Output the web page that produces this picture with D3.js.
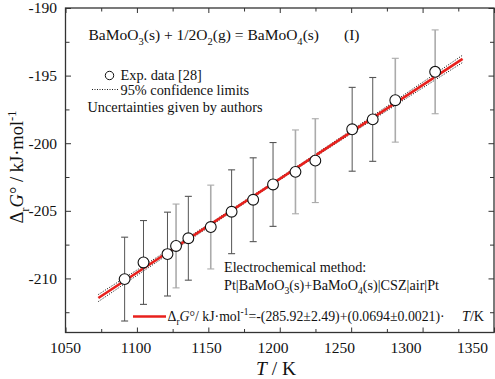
<!DOCTYPE html>
<html><head><meta charset="utf-8">
<script src="https://cdn.jsdelivr.net/npm/d3@7"></script>
<style>
html,body{margin:0;padding:0;background:#fff;}
svg{display:block;font-family:'Liberation Serif','Times New Roman',serif;}
</style></head>
<body><svg id="c" width="495" height="379"></svg>
<script>
// ---- data ----
const temperatureK = [1091.4, 1104.6, 1121.4, 1127.4, 1136.0, 1151.7, 1166.3, 1181.4, 1195.3, 1211.0, 1224.9, 1250.7, 1265.1, 1280.9, 1308.8];
const deltaG = [-210.05, -208.82, -208.20, -207.60, -207.03, -206.20, -205.07, -204.18, -203.05, -202.12, -201.29, -198.97, -198.24, -196.82, -194.72];
const uncertainty = [3.1, 3.1, 3.1, 3.1, 3.1, 3.1, 3.1, 3.1, 3.1, 3.1, 3.1, 3.1, 3.1, 3.1, 3.1];
const run = ["A","A","A","B","A","B","A","A","A","B","B","A","A","B","B"];
const fitT = [1073, 1328];
const fitG = [-211.45, -193.76];
const clT = [1073, 1100, 1130, 1160, 1190, 1220, 1250, 1280, 1310, 1328];
const clUpper = [-211.19, -209.38, -207.36, -205.32, -203.25, -201.16, -199.05, -196.92, -194.78, -193.49];
const clLower = [-211.71, -209.78, -207.64, -205.52, -203.41, -201.34, -199.29, -197.26, -195.24, -194.03];
const xTicks = [1050, 1100, 1150, 1200, 1250, 1300, 1350];
const xMinor = [1075, 1125, 1175, 1225, 1275, 1325];
const yTicks = [-210, -205, -200, -195, -190];
const yMinor = [-212.5, -207.5, -202.5, -197.5, -192.5];

// ---- layout ----
const svg = d3.select("#c");
const L = 65.5, R = 494, T = 8, B = 332.5;
const x = d3.scaleLinear().domain([1050, 1350]).range([L, R]);
const y = d3.scaleLinear().domain([-214, -190]).range([B, T]);
const xLab = d3.scaleLinear().domain([1050, 1150, 1350]).range([65, 206, 472]);
const barColor = d3.scaleOrdinal().domain(["A","B"]).range(["#555555","#ababab"]);
const barWidth = d3.scaleOrdinal().domain(["A","B"]).range([1, 1.6]);
const frameColor = "#333";

function axisStyle(g){
  g.select(".domain").remove();
  g.selectAll(".tick line").attr("stroke", frameColor).attr("stroke-width", 1);
  g.selectAll("text").attr("font-family","'Liberation Serif','Times New Roman',serif").attr("font-size", 15.5).attr("fill","#111");
}
// bottom
svg.append("g").attr("transform",`translate(0,${B})`)
  .call(d3.axisBottom(x).tickValues(xTicks).tickSize(-5).tickPadding(9).tickFormat(d3.format("d")))
  .call(axisStyle)
  .call(g => g.selectAll(".tick text").attr("x", d => xLab(d) - x(d)).attr("dy","0.72em"));
svg.append("g").attr("transform",`translate(0,${B})`)
  .call(d3.axisBottom(x).tickValues(xMinor).tickSize(-3.5).tickFormat(""))
  .call(axisStyle);
// top
svg.append("g").attr("transform",`translate(0,${T})`)
  .call(d3.axisTop(x).tickValues(xTicks).tickSize(-5).tickFormat(""))
  .call(axisStyle);
svg.append("g").attr("transform",`translate(0,${T})`)
  .call(d3.axisTop(x).tickValues(xMinor).tickSize(-3.5).tickFormat(""))
  .call(axisStyle);
// left
svg.append("g").attr("transform",`translate(${L},0)`)
  .call(d3.axisLeft(y).tickValues(yTicks).tickSize(-5.5).tickPadding(8.5).tickFormat(d => d3.format("d")(d).replace("−","-")))
  .call(axisStyle);
svg.append("g").attr("transform",`translate(${L},0)`)
  .call(d3.axisLeft(y).tickValues(yMinor).tickSize(-4).tickFormat(""))
  .call(axisStyle);
// right
svg.append("g").attr("transform",`translate(${R},0)`)
  .call(d3.axisRight(y).tickValues(yTicks).tickSize(-5.5).tickFormat(""))
  .call(axisStyle);
svg.append("g").attr("transform",`translate(${R},0)`)
  .call(d3.axisRight(y).tickValues(yMinor).tickSize(-4).tickFormat(""))
  .call(axisStyle);

// frame
svg.append("rect").attr("x", L).attr("y", T).attr("width", R - L).attr("height", B - T)
  .attr("fill","none").attr("stroke", frameColor).attr("stroke-width", 1.3);

// confidence limits
const clLine = d3.line().x(d => x(d[0])).y(d => y(d[1]));
[clUpper, clLower].forEach(arr => {
  svg.append("path").datum(clT.map((t,i) => [t, arr[i]]))
    .attr("d", clLine).attr("fill","none").attr("stroke","#000").attr("stroke-width",1).attr("stroke-dasharray","1,1.6");
});
// fit line
svg.append("path").datum(fitT.map((t,i) => [t, fitG[i]]))
  .attr("d", clLine).attr("fill","none").attr("stroke","#e8201c").attr("stroke-width",2.6);

// error bars
const pts = temperatureK.map((t,i) => ({t, g: deltaG[i], e: uncertainty[i], r: run[i]}));
const eb = svg.append("g");
pts.forEach(p => {
  const c = barColor(p.r), w = barWidth(p.r);
  const cx = x(p.t);
  eb.append("line").attr("x1",cx).attr("x2",cx).attr("y1",y(p.g + p.e)).attr("y2",y(p.g - p.e)).attr("stroke",c).attr("stroke-width",w);
  [p.g + p.e, p.g - p.e].forEach(v => {
    eb.append("line").attr("x1",cx - 3.5).attr("x2",cx + 3.5).attr("y1",y(v)).attr("y2",y(v)).attr("stroke",c).attr("stroke-width",1.1);
  });
});
// points
svg.append("g").selectAll("circle").data(pts).join("circle")
  .attr("cx", d => x(d.t)).attr("cy", d => y(d.g)).attr("r", 5.4)
  .attr("fill","#fff").attr("stroke","#111").attr("stroke-width",1.1);

// rich text helper
function richText(xp, yp, parts, size, anchor){
  const t = svg.append("text").attr("x", xp).attr("y", yp).attr("font-size", size).attr("fill","#111")
    .attr("text-anchor", anchor || "start");
  let shift = 0;
  parts.forEach(p => {
    const s = t.append("tspan").text(p.t);
    if (p.i) s.attr("font-style","italic");
    let want = 0;
    if (p.sub){ s.attr("font-size", size*0.68); want = size*0.3; }
    if (p.sup){ s.attr("font-size", size*0.68); want = -size*0.38; }
    s.attr("dy", want - shift);
    shift = want;
  });
  return t;
}

// title equation
richText(88.5, 40, [{t:"BaMoO"},{t:"3",sub:1},{t:"(s) + 1/2O"},{t:"2",sub:1},{t:"(g) = BaMoO"},{t:"4",sub:1},{t:"(s)"}], 15.5);
richText(344, 40, [{t:"(I)"}], 15.5);

// legend
svg.append("circle").attr("cx",109.5).attr("cy",75.5).attr("r",4.2).attr("fill","#fff").attr("stroke","#111").attr("stroke-width",1);
richText(120.5, 80, [{t:"Exp. data [28]"}], 14.3);
svg.append("line").attr("x1",92).attr("x2",118).attr("y1",89.5).attr("y2",89.5).attr("stroke","#000").attr("stroke-width",0.9).attr("stroke-dasharray","1,1.5");
richText(120.5, 94.5, [{t:"95% confidence limits"}], 14.3);
richText(87.5, 111.5, [{t:"Uncertainties given by authors"}], 14.3);

// method text
richText(224, 272, [{t:"Electrochemical method:"}], 14.2);
richText(224, 289.5, [{t:"Pt|BaMoO"},{t:"3",sub:1},{t:"(s)+BaMoO"},{t:"4",sub:1},{t:"(s)|CSZ|air|Pt"}], 14.2);

// fit legend
svg.append("line").attr("x1",133).attr("x2",166).attr("y1",316.5).attr("y2",316.5).attr("stroke","#e8201c").attr("stroke-width",2.6);
richText(167.5, 320.5, [{t:"Δ"},{t:"r",sub:1},{t:"G",i:1},{t:"°/ kJ·mol"},{t:"-1",sup:1},{t:"=-(285.92±2.49)+(0.0694±0.0021)·"}], 13.8);
richText(462, 320.5, [{t:"T",i:1},{t:"/K"}], 14.2);

// axis titles
richText(276, 375, [{t:"T",i:1},{t:" / K"}], 19.5, "middle");
const yl = richText(0, 0, [{t:"Δ"},{t:"r",sub:1},{t:"G",i:1},{t:"° / kJ·mol"},{t:"-1",sup:1}], 18.5, "middle");
yl.attr("transform","translate(23,167) rotate(-90)");
</script>
</body></html>
